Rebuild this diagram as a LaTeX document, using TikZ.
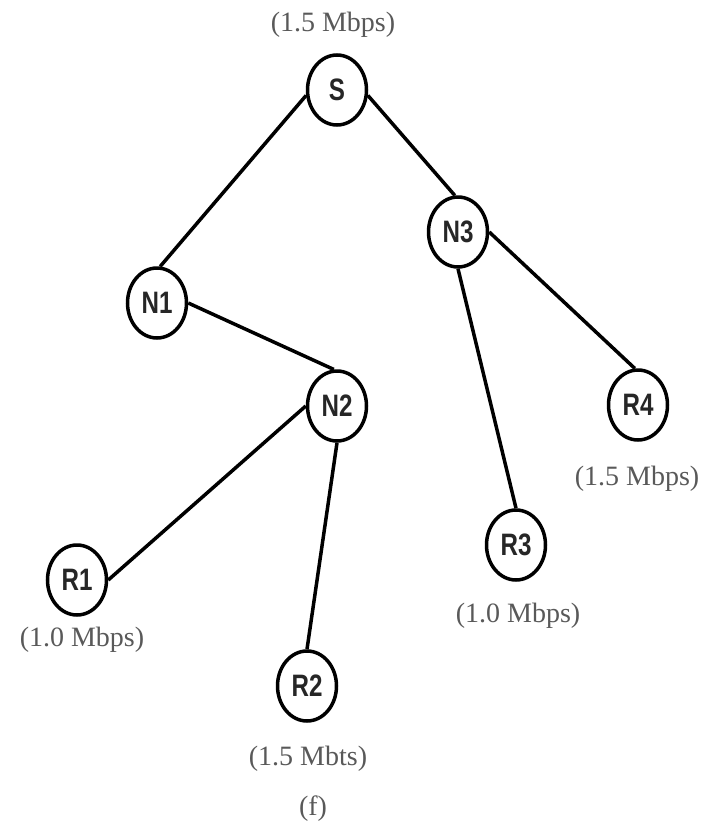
\documentclass[tikz,border=0pt]{standalone}
\usepackage{fontspec}
\setmainfont{Liberation Serif}
\newfontfamily\nodefont[FakeStretch=0.78]{Liberation Sans}
\usetikzlibrary{shapes.geometric}
\tikzset{
  netnode/.style={ellipse, draw=black, line width=3.5pt, minimum width=59pt, minimum height=70pt, inner sep=0pt,
    font=\nodefont\bfseries\fontsize{31}{33}\selectfont, text=black!85},
  ratelabel/.style={font=\fontsize{28}{30}\selectfont, text=black!65, inner sep=0pt},
  link/.style={line width=3.5pt, black}
}
\begin{document}
\begin{tikzpicture}[x=1pt,y=-1pt]
\useasboundingbox (0,0) rectangle (709,830);
\node[netnode] (S)  at (337,90)  {S};
\node[netnode] (N1) at (157,303) {N1};
\node[netnode] (N2) at (337,406) {N2};
\node[netnode] (N3) at (458,232) {N3};
\node[netnode] (R1) at (77,580)  {R1};
\node[netnode] (R2) at (307,686) {R2};
\node[netnode] (R3) at (516,545) {R3};
\node[netnode] (R4) at (638,405) {R4};

\node[ratelabel] (lS)  at (333,25)  {(1.5 Mbps)};
\node[ratelabel] (lR4) at (637,479) {(1.5 Mbps)};
\node[ratelabel] (lR3) at (518,616) {(1.0 Mbps)};
\node[ratelabel] (lR1) at (82,640)  {(1.0 Mbps)};
\node[ratelabel] (lR2) at (308,759) {(1.5 Mbts)};
\node[ratelabel] (cap) at (313,809) {(f)};

\draw[link] (S.190) -- (N1.85);
\draw[link] (S.350) -- (N3.95);
\draw[link] (N1.east) -- (N2.95);
\draw[link] (N2.west) -- (R1.east);
\draw[link] (N2.south) -- (R2.north);
\draw[link] (N3.south) -- (R3.north);
\draw[link] (N3.east) -- (R4.95);
\end{tikzpicture}
\end{document}
